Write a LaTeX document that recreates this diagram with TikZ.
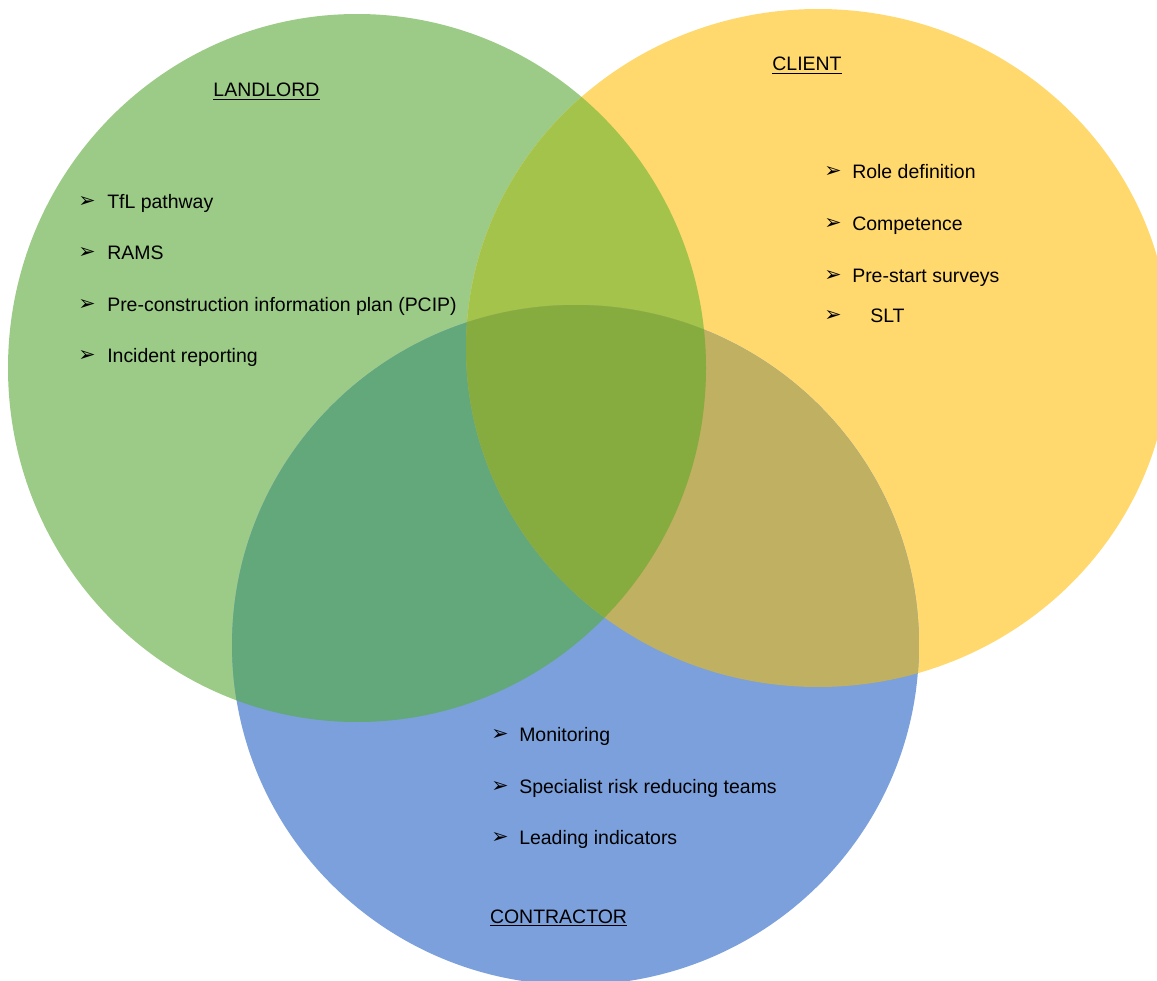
\documentclass[tikz,border=0pt]{standalone}
\usepackage{fontspec}
\setmainfont{Liberation Sans}
\newfontfamily\dingfont{DejaVu Sans}

\definecolor{landlordfill}{HTML}{9BCB86}
\definecolor{clientfill}{HTML}{FFD96E}
\definecolor{contractorfill}{HTML}{7BA0DB}
\definecolor{lcfill}{HTML}{A3C34A}
\definecolor{ckfill}{HTML}{C0B062}
\definecolor{lkfill}{HTML}{62A87A}
\definecolor{allfill}{HTML}{86AB3E}

% the three sets, in pixel-like units (y grows downwards)
\newcommand\landlordset{(357,368) ellipse [x radius=261.75pt, y radius=265.5pt]}
\newcommand\clientset{(818,348) ellipse [x radius=264pt, y radius=254.25pt]}
\newcommand\contractorset{(575.5,645) ellipse [x radius=257.6pt, y radius=255pt]}

\tikzset{
  itemtext/.style={anchor=base west, inner sep=0pt, font=\fontsize{14.6}{17}\selectfont},
  headtext/.style={anchor=base, inner sep=0pt, font=\fontsize{14.6}{17}\selectfont},
  bullet/.style={anchor=base west, inner sep=0pt, font=\dingfont\fontsize{15.5}{17}\selectfont},
}

\begin{document}
\begin{tikzpicture}[x=0.75pt, y=-0.75pt]
\useasboundingbox (0,0) rectangle (1157,981);

% base discs
\fill[landlordfill] \landlordset;
\fill[clientfill] \clientset;
\fill[contractorfill] \contractorset;

% pairwise overlaps
\begin{scope}
  \clip \landlordset;
  \fill[lcfill] \clientset;
\end{scope}
\begin{scope}
  \clip \landlordset;
  \fill[lkfill] \contractorset;
\end{scope}
\begin{scope}
  \clip \clientset;
  \fill[ckfill] \contractorset;
\end{scope}
% triple overlap
\begin{scope}
  \clip \landlordset;
  \clip \clientset;
  \fill[allfill] \contractorset;
\end{scope}

% headings
\node[headtext] (landlord) at (266.5,97) {\underline{LANDLORD}};
\node[headtext] (client) at (807,71) {\underline{CLIENT}};
\node[headtext] (contractor) at (558.5,923) {\underline{CONTRACTOR}};

% landlord items
\node[bullet] (lb1) at (78,207) {➢};
\node[itemtext] (l1) at (107,208) {TfL pathway};
\node[bullet] (lb2) at (78,258) {➢};
\node[itemtext] (l2) at (107,259) {RAMS};
\node[bullet] (lb3) at (78,310) {➢};
\node[itemtext] (l3) at (107,311) {Pre-construction information plan (PCIP)};
\node[bullet] (lb4) at (78,361) {➢};
\node[itemtext] (l4) at (107,362) {Incident reporting};

% client items
\node[bullet] (cb1) at (824,177) {➢};
\node[itemtext] (c1) at (852,178) {Role definition};
\node[bullet] (cb2) at (824,229) {➢};
\node[itemtext] (c2) at (852,230) {Competence};
\node[bullet] (cb3) at (824,281) {➢};
\node[itemtext] (c3) at (852,282) {Pre-start surveys};
\node[bullet] (cb4) at (824,321) {➢};
\node[itemtext] (c4) at (870,322) {SLT};

% contractor items
\node[bullet] (kb1) at (491,740) {➢};
\node[itemtext] (k1) at (519,741) {Monitoring};
\node[bullet] (kb2) at (491,792) {➢};
\node[itemtext] (k2) at (519,793) {Specialist risk reducing teams};
\node[bullet] (kb3) at (491,843) {➢};
\node[itemtext] (k3) at (519,844) {Leading indicators};
\end{tikzpicture}
\end{document}
